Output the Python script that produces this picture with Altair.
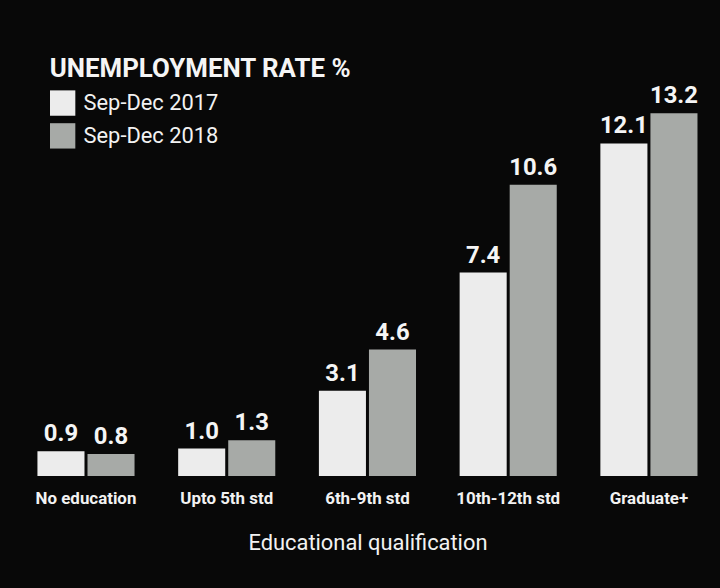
import altair as alt
import pandas as pd

categories = ["No education", "Upto 5th std", "6th-9th std", "10th-12th std", "Graduate+"]
series = ["Sep-Dec 2017", "Sep-Dec 2018"]
values_2017 = [0.9, 1.0, 3.1, 7.4, 12.1]
values_2018 = [0.8, 1.3, 4.6, 10.6, 13.2]

rows = []
for c, a, b in zip(categories, values_2017, values_2018):
    rows.append({"cat": c, "period": series[0], "rate": a, "label": f"{a:.1f}"})
    rows.append({"cat": c, "period": series[1], "rate": b, "label": f"{b:.1f}"})
df = pd.DataFrame(rows)

FONT = "Roboto, Liberation Sans, sans-serif"
BG = "#080808"

x = alt.X("cat:N", sort=categories,
          scale=alt.Scale(paddingInner=0.31, paddingOuter=0.16),
          axis=alt.Axis(title="Educational qualification", labelAngle=0, ticks=False,
                        domain=False, labelPadding=15, titlePadding=26,
                        labelFont=FONT, labelFontSize=17, labelFontWeight="bold",
                        labelColor="#f2f2f2", titleFont=FONT, titleFontSize=22,
                        titleFontWeight="normal", titleColor="#f2f2f2"))
xo = alt.XOffset("period:N", sort=series, scale=alt.Scale(paddingInner=0.06))
y = alt.Y("rate:Q", scale=alt.Scale(domain=[0, 16.5], nice=False), axis=None)

color = alt.Color("period:N", sort=series,
                  scale=alt.Scale(domain=series, range=["#ececec", "#a7aaa7"]),
                  legend=alt.Legend(title=None, orient="none", legendX=35, legendY=68,
                                    symbolType="square", symbolSize=650,
                                    symbolStrokeWidth=0, symbolOpacity=1,
                                    labelFont=FONT, labelFontSize=22,
                                    labelColor="#f2f2f2", rowPadding=7, labelOffset=8))

bars = alt.Chart(df).mark_bar().encode(x=x, xOffset=xo, y=y, color=color)
labels = alt.Chart(df).mark_text(baseline="bottom", dy=-5, font=FONT, fontSize=24,
                                 fontWeight="bold", color="#f5f5f5").encode(
    x=alt.X("cat:N", sort=categories), xOffset=alt.XOffset("period:N", sort=series),
    y="rate:Q", text="label:N")

chart = (bars + labels).properties(
    width=709, height=456,
    background=BG,
    padding={"left": 15, "top": 21, "right": 0, "bottom": 111},
    autosize=alt.AutoSizeParams(type="none"),
    title=alt.TitleParams("UNEMPLOYMENT RATE %", anchor="start", dx=35, dy=64,
                          font=FONT, fontSize=26, fontWeight="bold", color="#f5f5f5"),
).configure_view(stroke=None)

chart.save("out.html", embed_options={"renderer": "svg", "actions": False})
